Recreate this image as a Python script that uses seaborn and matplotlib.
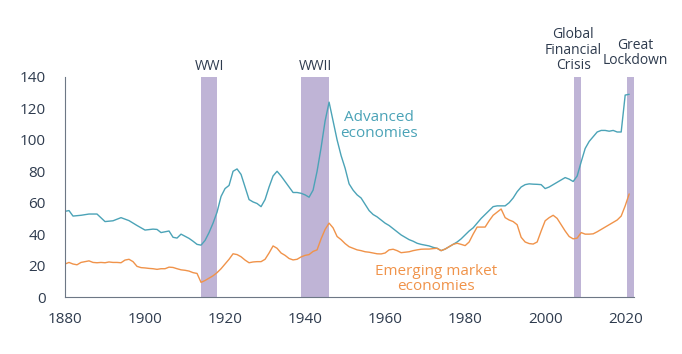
import seaborn as sns
import pandas as pd
import matplotlib.pyplot as plt

# values (percent of GDP)
adv_years = [1880, 1881, 1882, 1884, 1886, 1888, 1890, 1892, 1894, 1896, 1898,
             1900, 1902, 1903, 1904, 1906, 1907, 1908, 1909, 1911, 1912, 1913,
             1914, 1915, 1916, 1917, 1918, 1919, 1920, 1921, 1922, 1923, 1924,
             1925, 1926, 1927, 1928, 1929, 1930, 1931, 1932, 1933, 1934, 1935,
             1936, 1937, 1938, 1939, 1940, 1941, 1942, 1943, 1944, 1945, 1946,
             1947, 1948, 1949, 1950, 1951, 1952, 1953, 1954, 1955, 1956, 1957,
             1958, 1959, 1960, 1961, 1962, 1963, 1964, 1965, 1966, 1967, 1968,
             1969, 1970, 1971, 1972, 1973, 1974, 1975, 1976, 1977, 1978, 1979,
             1980, 1981, 1982, 1983, 1984, 1985, 1986, 1987, 1988, 1989, 1990,
             1991, 1992, 1993, 1994, 1995, 1996, 1997, 1998, 1999, 2000, 2001,
             2002, 2003, 2004, 2005, 2006, 2007, 2008, 2009, 2010, 2011, 2012,
             2013, 2014, 2015, 2016, 2017, 2018, 2019, 2020, 2021]
adv_debt = [54.5, 55, 51.5, 52, 52.8, 52.8, 48, 48.5, 50.5, 48.6, 45.5,
            42.6, 43.2, 43, 41, 42, 38, 37.5, 40, 37.3, 35.5, 33.5,
            33, 36, 41, 47, 54, 64, 69, 71, 80, 81.5, 78,
            70, 62, 60.5, 59.5, 57.5, 62, 70, 77, 80, 77, 73.5,
            70, 66.5, 66.5, 66, 65, 63.5, 68, 80, 95, 112, 124,
            112, 100, 90, 82, 72, 68, 65, 63, 59, 55, 52.5,
            51, 49, 47, 45.5, 43.5, 41.5, 39.5, 38, 36.5, 35.5, 34.2,
            33.5, 33, 32.5, 31.6, 31, 29.5, 30.5, 32, 33.5, 35, 37,
            39.5, 42, 44, 47, 50, 52.5, 55, 57.5, 58, 58, 58,
            60, 63, 67, 70, 71.5, 72, 71.8, 71.7, 71.5, 69, 70,
            71.5, 73, 74.5, 76, 75, 73.5, 77, 86, 94.5, 99, 102,
            105, 106, 106, 105.5, 106, 105, 105, 128.5, 129]

em_years = list(range(1880, 2022))
em_debt = [21, 22, 21, 20.5, 22, 22.5, 23, 22, 21.8, 22,
           21.8, 22.3, 22, 22, 21.8, 23.5, 24, 22.5, 19.5, 18.7,
           18.5, 18.2, 18, 17.6, 18, 18, 19, 18.8, 18, 17.3,
           17, 16.5, 15.5, 15, 9.3, 10.5, 12, 13.5, 15.5, 18,
           21, 24, 27.5, 27, 25.6, 23.5, 21.8, 22.3, 22.5, 22.5,
           24, 28, 32.5, 31, 28, 26.5, 24.5, 23.6, 24, 25.5,
           26.5, 27, 29, 30, 37, 43, 47, 44, 38.5, 36.5,
           34, 32, 31, 30, 29.5, 28.8, 28.5, 28, 27.5, 27.4,
           28, 30, 30.4, 29.5, 28.2, 28.5, 28.8, 29.5, 30, 30.4,
           30.5, 30.5, 30.8, 31, 29.5, 30.5, 32, 33.5, 34.2, 33.5,
           32.7, 35, 40, 44.5, 44.5, 44.5, 48.5, 52, 54, 56,
           50.5, 49, 48, 46, 38, 35, 34, 33.7, 35, 42,
           48.5, 50.5, 52, 50, 46, 42, 38.5, 37, 37.5, 41,
           40, 40, 40.2, 41.5, 43, 44.5, 46, 47.5, 49, 51.5,
           58, 65.6]

# shaded episodes: (start, end)
episodes = [(1914, 1918), (1939, 1946), (2007.3, 2009), (2020.4, 2022.2)]

adv = pd.DataFrame({"year": adv_years, "debt": adv_debt})
em = pd.DataFrame({"year": em_years, "debt": em_debt})

teal = "#4ba3b7"
orange = "#f0934a"
band = "#bfb4d6"
txt = "#2e3b4e"
axcol = "#6d7785"

sns.set_style("white")
plt.rcParams["font.family"] = ["Open Sans", "DejaVu Sans"]

fig = plt.figure(figsize=(6.82, 3.54), dpi=100)
ax = fig.add_axes([0.0953, 0.161, 0.8343, 0.6215])

for start, end in episodes:
    ax.axvspan(start, end, color=band, lw=0, zorder=0)

sns.lineplot(data=adv, x="year", y="debt", color=teal, lw=1.0, ax=ax)
sns.lineplot(data=em, x="year", y="debt", color=orange, lw=1.0, ax=ax)

ax.set_xlim(1880, 2022.2)
ax.set_ylim(0, 140)
ax.set_xticks(range(1880, 2021, 20))
ax.set_yticks(range(0, 141, 20))
ax.set_xlabel("")
ax.set_ylabel("")
ax.tick_params(axis="x", direction="in", length=5, width=0.8, color=axcol,
               pad=11, labelsize=11, labelcolor=txt)
ax.tick_params(axis="y", direction="in", length=4, width=0.8, color=axcol,
               pad=14, labelsize=11, labelcolor=txt)
for s in ["top", "right"]:
    ax.spines[s].set_visible(False)
for s in ["left", "bottom"]:
    ax.spines[s].set_color(axcol)
    ax.spines[s].set_linewidth(0.8)

# episode labels above the bands
ax.text(1916, 142, "WWI", ha="center", va="bottom", fontsize=10, color=txt)
ax.text(1942.5, 142, "WWII", ha="center", va="bottom", fontsize=10, color=txt)
ax.text(2007, 142.5, "Global\nFinancial\nCrisis", ha="center", va="bottom",
        fontsize=10, color=txt, linespacing=1.05, clip_on=False)
ax.text(2022.5, 145.5, "Great\nLockdown", ha="center", va="bottom",
        fontsize=10, color=txt, linespacing=1.05, clip_on=False)

# series labels
ax.text(1958.5, 109, "Advanced\neconomies", ha="center", va="center",
        fontsize=11, color=teal, linespacing=1.05)
ax.text(1972.75, 11.5, "Emerging market\neconomies", ha="center", va="center",
        fontsize=11, color=orange, linespacing=1.05)

plt.savefig("out.png", dpi=100)
